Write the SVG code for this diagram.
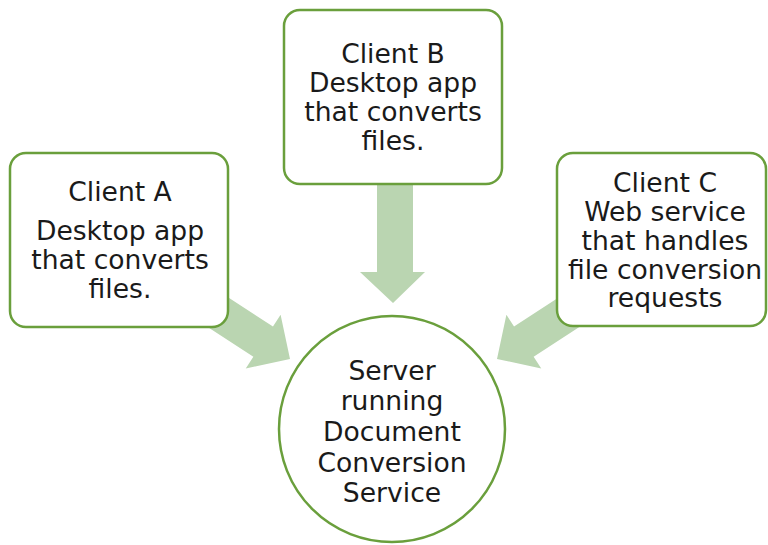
<svg xmlns="http://www.w3.org/2000/svg" width="768" height="545" viewBox="0 0 768 545">
<style>
.box{fill:#ffffff;stroke:#6a9f3c;stroke-width:2.5}
.arrow{fill:#bad5b1;stroke:none}
.t{font-family:"DejaVu Sans",Verdana,sans-serif;font-size:26.6px;fill:#1a1a1a;text-anchor:middle}
</style>
<defs>
<polygon id="arr" points="0,0 -32,-32 -32,-18 -130,-18 -130,18 -32,18 -32,32"/>
</defs>
<rect width="768" height="545" fill="#ffffff"/>
<g id="connectors">
<use href="#arr" class="arrow" transform="translate(290,359) rotate(33)"/>
<polygon class="arrow" points="377,180 413,180 413,272 425,272 393,303 360,272 377,272"/>
<use href="#arr" class="arrow" transform="translate(497,359) rotate(147)"/>
</g>
<g id="clientA">
<rect class="box" x="10" y="153" width="218" height="174" rx="16"/>
<text class="t" x="120" y="201">Client A</text>
<text class="t" x="120" y="240">Desktop app</text>
<text class="t" x="120" y="269">that converts</text>
<text class="t" x="120" y="298">files.</text>
</g>
<g id="clientB">
<rect class="box" x="284" y="10" width="218" height="174" rx="16"/>
<text class="t" x="393" y="63">Client B</text>
<text class="t" x="393" y="92">Desktop app</text>
<text class="t" x="393" y="121">that converts</text>
<text class="t" x="393" y="150">files.</text>
</g>
<g id="clientC">
<rect class="box" x="557" y="153" width="209" height="173" rx="16"/>
<text class="t" x="665" y="192">Client C</text>
<text class="t" x="665" y="221">Web service</text>
<text class="t" x="665" y="250">that handles</text>
<text class="t" x="665" y="279">file conversion</text>
<text class="t" x="665" y="307">requests</text>
</g>
<g id="server">
<circle class="box" cx="392" cy="429" r="113"/>
<text class="t" x="392" y="380">Server</text>
<text class="t" x="392" y="410">running</text>
<text class="t" x="392" y="441">Document</text>
<text class="t" x="392" y="472">Conversion</text>
<text class="t" x="392" y="502">Service</text>
</g>
</svg>
